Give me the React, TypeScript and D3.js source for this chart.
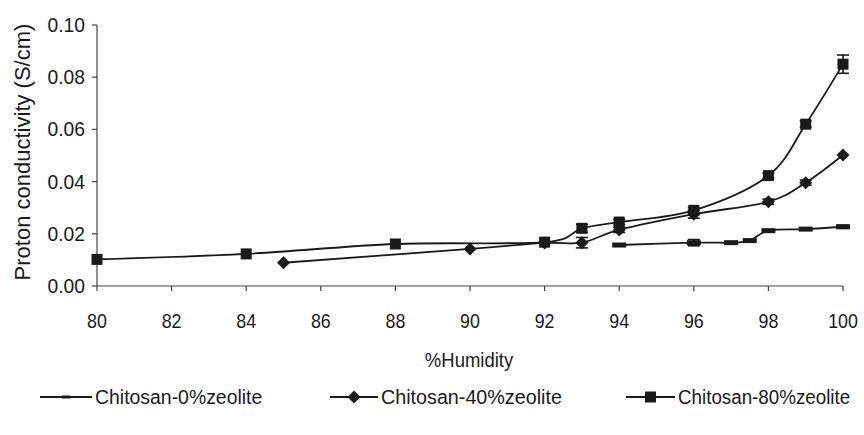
import React from "react";
import * as d3 from "d3";

// Proton conductivity of chitosan membranes vs. relative humidity
const humidity0 = [94, 96, 97, 97.5, 98, 99, 100];
const conductivity0 = [0.0157, 0.0166, 0.0166, 0.0174, 0.0212, 0.0218, 0.0227];
const error0 = [0, 0.0012, 0, 0, 0, 0, 0.0006];

const humidity40 = [85, 90, 92, 93, 94, 96, 98, 99, 100];
const conductivity40 = [0.0089, 0.0142, 0.0165, 0.0166, 0.0215, 0.0275, 0.0323, 0.0396, 0.0502];
const error40 = [0, 0, 0, 0.002, 0.001, 0.0015, 0.001, 0.001, 0];

const humidity80 = [80, 84, 88, 92, 93, 94, 96, 98, 99, 100];
const conductivity80 = [0.0102, 0.0123, 0.0161, 0.0168, 0.0221, 0.0245, 0.029, 0.0423, 0.062, 0.085];
const error80 = [0, 0, 0, 0, 0.0015, 0.001, 0.001, 0.001, 0.0012, 0.0035];

const xTicks = [80, 82, 84, 86, 88, 90, 92, 94, 96, 98, 100];
const yTicks = [0, 0.02, 0.04, 0.06, 0.08, 0.1];

const seriesNames = ["Chitosan-0%zeolite", "Chitosan-40%zeolite", "Chitosan-80%zeolite"];

const W = 864;
const H = 435;
const FONT = "'Liberation Sans', Arial, Helvetica, sans-serif";
const INK = "#1a1a1a";

const x = d3.scaleLinear().domain([80, 100]).range([97, 843]);
const y = d3.scaleLinear().domain([0, 0.1]).range([286, 25]);

type Pt = { h: number; c: number; e: number };
const zip = (hs: number[], cs: number[], es: number[]): Pt[] =>
  hs.map((h, i) => ({ h, c: cs[i], e: es[i] }));

const series = [
  { name: seriesNames[0], marker: "bar", data: zip(humidity0, conductivity0, error0) },
  { name: seriesNames[1], marker: "diamond", data: zip(humidity40, conductivity40, error40) },
  { name: seriesNames[2], marker: "square", data: zip(humidity80, conductivity80, error80) },
];

const line = d3
  .line<Pt>()
  .x((d) => x(d.h))
  .y((d) => y(d.c))
  .curve(d3.curveCatmullRom.alpha(0));

function Marker({ kind, cx, cy }: { kind: string; cx: number; cy: number }) {
  if (kind === "square") {
    return <rect x={cx - 5.5} y={cy - 5.5} width={11} height={11} fill={INK} />;
  }
  if (kind === "diamond") {
    return (
      <path
        d={`M${cx},${cy - 6.5}L${cx + 6.5},${cy}L${cx},${cy + 6.5}L${cx - 6.5},${cy}Z`}
        fill={INK}
      />
    );
  }
  return <rect x={cx - 7} y={cy - 2.5} width={14} height={5} fill={INK} />;
}

export default function App() {
  // legend line extents, text start and horizontal squeeze of each label
  const legendItems = [
    { lx: 40, lx2: 92, tx: 95, sx: 0.925 },
    { lx: 330, lx2: 378, tx: 381, sx: 0.94 },
    { lx: 626, lx2: 675, tx: 678, sx: 0.895 },
  ];
  const legendY = 397;

  return (
    <svg
      width={W}
      height={H}
      style={{ position: "absolute", left: 0, top: 0, background: "#fff" }}
      fontFamily={FONT}
    >
      {/* axes */}
      <line x1={x(80)} x2={x(100)} y1={y(0)} y2={y(0)} stroke="#444" strokeWidth={1.2} />
      <line x1={x(80)} x2={x(80)} y1={y(0)} y2={y(0.1)} stroke="#444" strokeWidth={1.2} />
      {xTicks.map((t) => (
        <g key={`xt${t}`}>
          <line x1={x(t)} x2={x(t)} y1={y(0)} y2={y(0) + 5} stroke="#444" strokeWidth={1.2} />
          <text
            transform={`translate(${x(t)},${y(0) + 42}) scale(0.85,1)`}
            textAnchor="middle"
            fontSize={21}
            fill={INK}
          >
            {t}
          </text>
        </g>
      ))}
      {yTicks.map((t) => (
        <g key={`yt${t}`}>
          <line x1={x(80) - 5} x2={x(80)} y1={y(t)} y2={y(t)} stroke="#444" strokeWidth={1.2} />
          <text
            transform={`translate(${x(80) - 12},${y(t) + 7}) scale(0.92,1)`}
            textAnchor="end"
            fontSize={21}
            fill={INK}
          >
            {t.toFixed(2)}
          </text>
        </g>
      ))}

      {/* axis titles */}
      <text
        transform="translate(469,367) scale(0.88,1)"
        textAnchor="middle"
        fontSize={21}
        fill={INK}
      >
        %Humidity
      </text>
      <text
        transform={`translate(30,152) rotate(-90)`}
        textAnchor="middle"
        fontSize={22}
        fill={INK}
      >
        Proton conductivity (S/cm)
      </text>

      {/* series */}
      {series.map((s) => (
        <g key={s.name}>
          <path d={line(s.data) ?? ""} fill="none" stroke={INK} strokeWidth={1.8} />
          {s.data
            .filter((d) => d.e > 0)
            .map((d, i) => (
              <g key={`e${i}`} stroke={INK} strokeWidth={1.6}>
                <line x1={x(d.h)} x2={x(d.h)} y1={y(d.c - d.e)} y2={y(d.c + d.e)} />
                <line x1={x(d.h) - 6} x2={x(d.h) + 6} y1={y(d.c - d.e)} y2={y(d.c - d.e)} />
                <line x1={x(d.h) - 6} x2={x(d.h) + 6} y1={y(d.c + d.e)} y2={y(d.c + d.e)} />
              </g>
            ))}
          {s.data.map((d, i) => (
            <Marker key={i} kind={s.marker} cx={x(d.h)} cy={y(d.c)} />
          ))}
        </g>
      ))}

      {/* legend */}
      {series.map((s, i) => {
        const it = legendItems[i];
        return (
          <g key={`lg${i}`}>
            <line x1={it.lx} x2={it.lx2} y1={legendY} y2={legendY} stroke={INK} strokeWidth={2} />
            {s.marker === "bar" ? (
              <rect x={(it.lx + it.lx2) / 2 - 4} y={legendY - 1.5} width={8} height={3} fill={INK} />
            ) : (
              <Marker kind={s.marker} cx={(it.lx + it.lx2) / 2} cy={legendY} />
            )}
            <text
              transform={`translate(${it.tx},${legendY + 7}) scale(${it.sx},1)`}
              fontSize={21}
              fill={INK}
            >
              {s.name}
            </text>
          </g>
        );
      })}
    </svg>
  );
}
